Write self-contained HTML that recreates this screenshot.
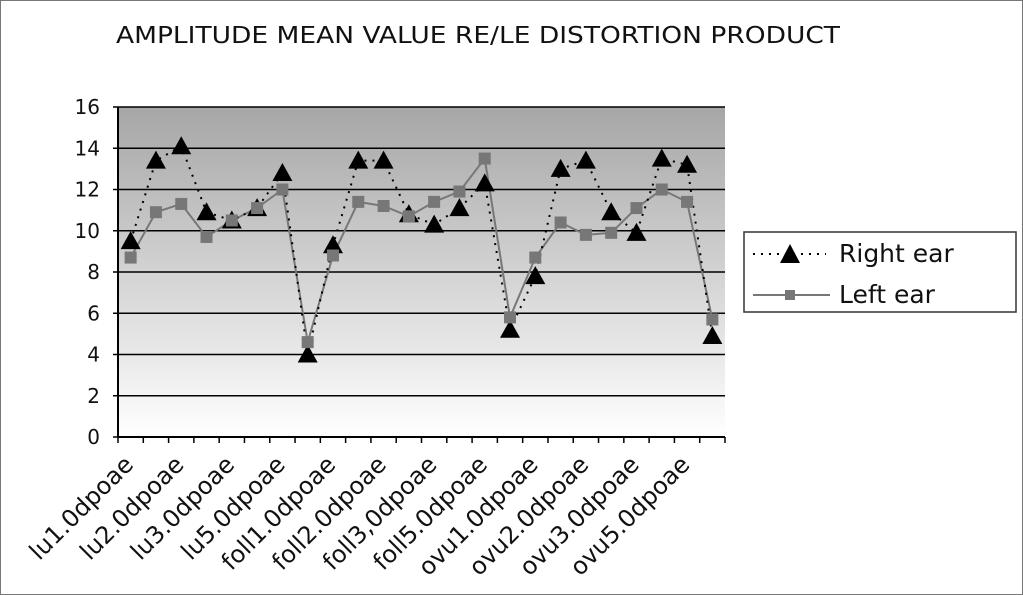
<!DOCTYPE html>
<html><head><meta charset="utf-8"><style>
html,body{margin:0;padding:0;background:#fff;}
svg{display:block;font-family:"DejaVu Sans","Liberation Sans",sans-serif;}
</style></head><body>
<svg id="chart" width="1023" height="595" viewBox="0 0 1023 595">
<defs><linearGradient id="bg" x1="0" y1="0" x2="0" y2="1">
<stop offset="0" stop-color="#a6a6a6"/><stop offset="1" stop-color="#ffffff"/></linearGradient></defs>
<rect x="0.5" y="0.5" width="1022" height="594" fill="#fff" stroke="#777"/>
<text x="116" y="43" font-size="23" textLength="724" lengthAdjust="spacingAndGlyphs" fill="#111">AMPLITUDE MEAN VALUE RE/LE DISTORTION PRODUCT</text>
<rect x="118" y="107" width="607" height="330" fill="url(#bg)"/>
<g id="grid"></g><g id="axes"></g><g id="series"></g><g id="xlabels"></g>
<g>
<rect x="744" y="232" width="272" height="80" fill="#fff" stroke="#333" stroke-width="1.5"/>
<line x1="753" y1="254" x2="826" y2="254" stroke="#000" stroke-width="2" stroke-dasharray="2,6"/>
<polygon points="790,244 780,263 800,263" fill="#000"/>
<text x="839" y="262" font-size="25" fill="#111">Right ear</text>
<line x1="753" y1="295" x2="830" y2="295" stroke="#777" stroke-width="2"/>
<rect x="785" y="290" width="10" height="10" fill="#777"/>
<text x="839" y="303" font-size="25" fill="#111">Left ear</text>
</g>
</svg>
<script>
const categories=["lu1.0","lu1.5","lu2.0","lu2.5","lu3.0","lu4.0","lu5.0","lu6.0","foll1.0","foll1.5","foll2.0","foll2.5","foll3.0","foll4.0","foll5.0","foll6.0","ovu1.0","ovu1.5","ovu2.0","ovu2.5","ovu3.0","ovu4.0","ovu5.0","ovu6.0"];
const rightEar=[9.5,13.4,14.1,10.9,10.5,11.1,12.8,4.0,9.3,13.4,13.4,10.8,10.3,11.1,12.3,5.2,7.8,13.0,13.4,10.9,9.9,13.5,13.2,4.9];
const leftEar=[8.7,10.9,11.3,9.7,10.5,11.1,12.0,4.6,8.8,11.4,11.2,10.7,11.4,11.9,13.5,5.8,8.7,10.4,9.8,9.9,11.1,12.0,11.4,5.7];
const yTicks=[0,2,4,6,8,10,12,14,16];
const xTickLabels=["lu1.0dpoae","lu2.0dpoae","lu3.0dpoae","lu5.0dpoae","foll1.0dpoae","foll2.0dpoae","foll3,0dpoae","foll5.0dpoae","ovu1.0dpoae","ovu2.0dpoae","ovu3.0dpoae","ovu5.0dpoae"];
const NS="http://www.w3.org/2000/svg";
const X0=118,X1=725,Y0=437,Y1=107,YMAX=16;
const bw=(X1-X0)/categories.length;
function xs(i){return X0+bw*(i+0.5);}
function ys(v){return Y0-(v/YMAX)*(Y0-Y1);}
function mk(tag,attrs,parent){const e=document.createElementNS(NS,tag);for(const k in attrs)e.setAttribute(k,attrs[k]);parent.appendChild(e);return e;}
const grid=document.getElementById('grid'),axes=document.getElementById('axes'),ser=document.getElementById('series'),xl=document.getElementById('xlabels');
yTicks.forEach(t=>{
  const y=ys(t);
  if(t>0){const g=mk('line',{x1:X0,x2:X1,y1:y,y2:y,stroke:'#000','stroke-width':1.5},grid);
  
  }
  const tk=mk('line',{x1:X0-5,x2:X0,y1:y,y2:y,stroke:'#000','stroke-width':1.5},axes);
  
  
  const tx=mk('text',{x:X0-18,y:y+7,'font-size':20,'text-anchor':'end',fill:'#111'},axes);
  tx.textContent=t;
  
  
});
const ya=mk('line',{x1:X0,x2:X0,y1:Y1,y2:Y0,stroke:'#000','stroke-width':2},axes);


const xa=mk('line',{x1:X0,x2:X1,y1:Y0,y2:Y0,stroke:'#000','stroke-width':2},axes);


for(let i=0;i<=categories.length;i++){
  const x=X0+bw*i;
  const t=mk('line',{x1:x,x2:x,y1:Y0,y2:Y0+6,stroke:'#000','stroke-width':1.5},axes);
  
  
}
xTickLabels.forEach((s,i)=>{
  const x=xs(i*2)+4,y=466;
  const t=mk('text',{x:x,y:y,'font-size':24,'text-anchor':'end',fill:'#111',transform:'rotate(-45 '+x+' '+y+')'},xl);
  t.textContent=s;
  
  
});
const lp=mk('polyline',{points:leftEar.map((v,i)=>xs(i)+','+ys(v)).join(' '),fill:'none',stroke:'#777','stroke-width':2},ser);


const rp=mk('polyline',{points:rightEar.map((v,i)=>xs(i)+','+ys(v)).join(' '),fill:'none',stroke:'#000','stroke-width':2,'stroke-dasharray':'2,6'},ser);


rightEar.forEach((v,i)=>{
  const x=xs(i),y=ys(v);
  const p=mk('polygon',{points:x+','+(y-10)+' '+(x-10)+','+(y+8)+' '+(x+10)+','+(y+8),fill:'#000'},ser);
  
  
});
leftEar.forEach((v,i)=>{
  const x=xs(i),y=ys(v);
  const r=mk('rect',{x:x-6,y:y-6,width:12,height:12,fill:'#777'},ser);
  
  
});
</script>
</body></html>
